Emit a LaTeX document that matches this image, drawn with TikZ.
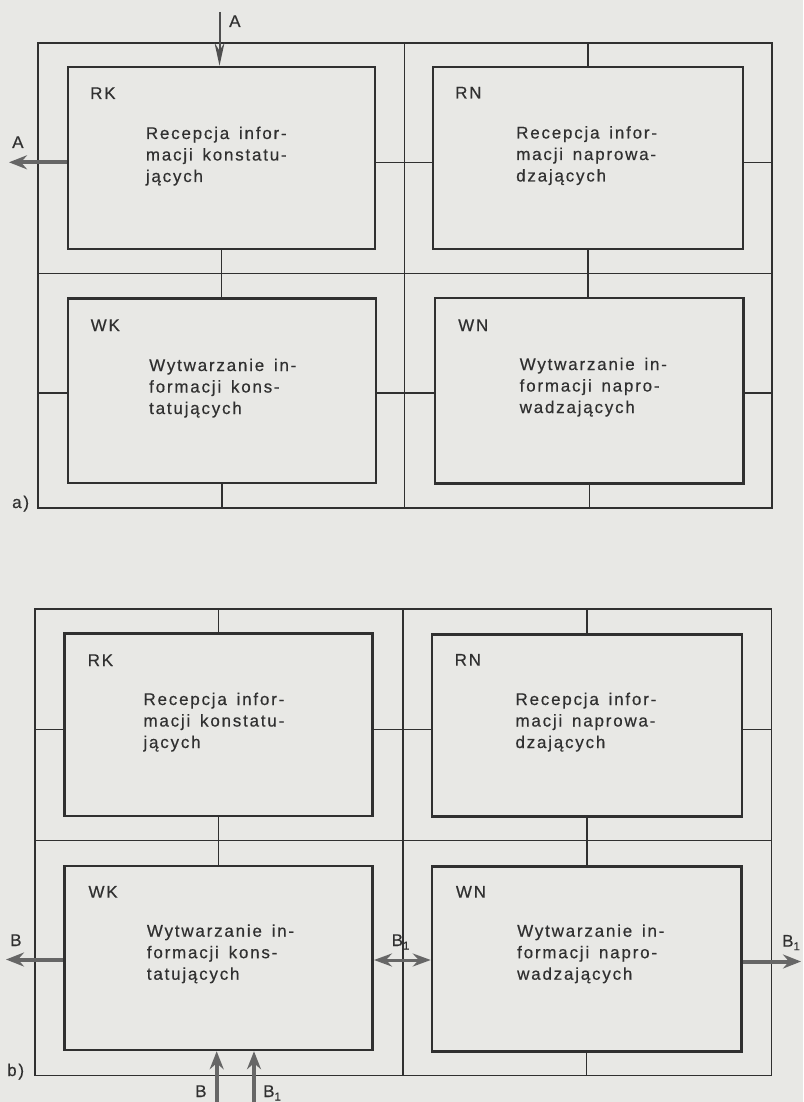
\documentclass[tikz,border=0pt]{standalone}
\usepackage{fontspec}
\setmainfont{Liberation Sans}[LetterSpace=10.5,WordSpace=1.5,FakeBold=0.45]
\usetikzlibrary{arrows.meta}
\definecolor{paper}{HTML}{E8E8E5}
\definecolor{ink}{HTML}{303030}
\definecolor{arrowgray}{HTML}{666666}
\newcommand\boxlines[3]{\vtop{\hbox{#1}\hbox{#2}\hbox{#3}}}
\newcommand\lowone{\raisebox{-3.5pt}{\fontsize{11.5}{11.5}\selectfont 1}}
\begin{document}
\begin{tikzpicture}[x=1pt,y=-1pt,
  frame/.style={draw=ink, line width=1.3pt, rectangle, inner sep=0pt},
  block/.style={draw=ink, line width=2.5pt, rectangle, inner sep=0pt},
  conn/.style={draw=ink, line width=1.3pt},
  txt/.style={anchor=base west, inner sep=0pt, text=ink, font=\fontsize{17}{21.5}\selectfont},
  fatarrow/.style={draw=arrowgray, line width=4pt, -{Stealth[length=18pt,width=14pt,inset=6pt]}},
  twoarrow/.style={draw=arrowgray, line width=3pt, {Stealth[length=18pt,width=13pt,inset=6pt]}-{Stealth[length=18pt,width=13pt,inset=6pt]}},
  thinarrow/.style={draw=ink!85, line width=2pt, -{Stealth[length=23pt,width=10pt,inset=8pt]}}
]
\useasboundingbox (0,0) rectangle (803,1102);
\fill[paper] (0,0) rectangle (803,1102);

% ---------------- a) ----------------
\node[frame, minimum width=734pt, minimum height=465pt] (fa) at (405,275.5) {};
\coordinate (amid) at (404.5,273.5);
\draw[conn] (fa.north -| amid) -- (fa.south -| amid);
\draw[conn] (fa.west |- amid) -- (fa.east |- amid);

\node[block, minimum width=307pt, minimum height=182pt] (rka) at (221.5,158) {};
\node[block, minimum width=310pt, minimum height=182pt] (rna) at (588,158) {};
\node[block, minimum width=308pt, minimum height=184.5pt] (wka) at (222,390.75) {};
\node[block, minimum width=308.5pt, minimum height=185.5pt] (wna) at (589.25,390.75) {};

\coordinate (ya1) at (0,162.3);
\coordinate (ya2) at (0,393);
\coordinate (atop) at (219.5,12);
\coordinate (aleft) at (9,162.3);

\draw[thinarrow] (atop) -- (rka.north -| atop);
\draw[fatarrow] (rka.west |- ya1) -- (aleft);
\draw[conn] (rna.north |- fa.north) -- (rna.north);
\draw[conn] (rka.east |- ya1) -- (rna.west |- ya1);
\draw[conn] (rna.east |- ya1) -- (fa.east |- ya1);
\draw[conn] (rka.south) -- (wka.north -| rka.south);
\draw[conn] (rna.south) -- (wna.north -| rna.south);
\draw[conn] (fa.west |- ya2) -- (wka.west |- ya2);
\draw[conn] (wka.east |- ya2) -- (wna.west |- ya2);
\draw[conn] (wna.east |- ya2) -- (fa.east |- ya2);
\draw[conn] (wka.south) -- (fa.south -| wka.south);
\draw[conn] (wna.south) -- (fa.south -| wna.south);

\node[txt] (rkaL) at (90,99) {RK};
\node[txt] (rkaT) at (145.7,139) {\boxlines{Recepcja infor-}{macji konstatu-}{jących}};
\node[txt] (rnaL) at (455,98.5) {RN};
\node[txt] (rnaT) at (516,138.5) {\boxlines{Recepcja infor-}{macji naprowa-}{dzających}};
\node[txt] (wkaL) at (90.5,331) {WK};
\node[txt] (wkaT) at (149,371) {\boxlines{Wytwarzanie in-}{formacji kons-}{tatujących}};
\node[txt] (wnaL) at (458,331) {WN};
\node[txt] (wnaT) at (519.5,370) {\boxlines{Wytwarzanie in-}{formacji napro-}{wadzających}};

\node[txt] (labA1) at (229,27) {A};
\node[txt] (labA2) at (12,148) {A};
\node[txt] (laba) at (12,508) {a)};

% ---------------- b) ----------------
\node[frame, minimum width=736.5pt, minimum height=466.5pt] (fb) at (403.25,842.25) {};
\coordinate (bmid) at (403,840.5);
\draw[conn] (fb.north -| bmid) -- (fb.south -| bmid);
\draw[conn] (fb.west |- bmid) -- (fb.east |- bmid);

\node[block, minimum width=308.4pt, minimum height=182.5pt] (rkb) at (218.5,724.75) {};
\node[block, minimum width=310pt, minimum height=182.2pt] (rnb) at (587,725.6) {};
\node[block, minimum width=308.4pt, minimum height=184pt] (wkb) at (218.5,958) {};
\node[block, minimum width=309.3pt, minimum height=185pt] (wnb) at (586.65,959.2) {};

\coordinate (yb1) at (0,729.5);
\coordinate (yb2) at (0,960);
\coordinate (bleft) at (6,959.5);
\coordinate (bright) at (801,961.5);
\coordinate (bup1) at (216.7,1102);
\coordinate (bup2) at (254,1102);

\draw[conn] (rkb.north |- fb.north) -- (rkb.north);
\draw[conn] (rnb.north |- fb.north) -- (rnb.north);
\draw[conn] (fb.west |- yb1) -- (rkb.west |- yb1);
\draw[conn] (rkb.east |- yb1) -- (rnb.west |- yb1);
\draw[conn] (rnb.east |- yb1) -- (fb.east |- yb1);
\draw[conn] (rkb.south) -- (wkb.north -| rkb.south);
\draw[conn] (rnb.south) -- (wnb.north -| rnb.south);
\draw[conn] (wnb.south) -- (fb.south -| wnb.south);

\draw[fatarrow] (wkb.west |- bleft) -- (bleft);
\draw[twoarrow] (wkb.east |- yb2) -- (wnb.west |- yb2);
\draw[fatarrow] (wnb.east |- bright) -- (bright);
\draw[fatarrow] (bup1) -- (wkb.south -| bup1);
\draw[fatarrow] (bup2) -- (wkb.south -| bup2);

\node[txt] (rkbL) at (87.5,666) {RK};
\node[txt] (rkbT) at (143.3,705) {\boxlines{Recepcja infor-}{macji konstatu-}{jących}};
\node[txt] (rnbL) at (454.5,665.7) {RN};
\node[txt] (rnbT) at (515.3,705) {\boxlines{Recepcja infor-}{macji naprowa-}{dzających}};
\node[txt] (wkbL) at (88.3,897.7) {WK};
\node[txt] (wkbT) at (146.7,936.7) {\boxlines{Wytwarzanie in-}{formacji kons-}{tatujących}};
\node[txt] (wnbL) at (455.7,897.7) {WN};
\node[txt] (wnbT) at (517,936.7) {\boxlines{Wytwarzanie in-}{formacji napro-}{wadzających}};

\node[txt] (labB1) at (10,946) {B};
\node[txt] (labB2) at (391.5,946) {B\lowone};
\node[txt] (labB3) at (782,946.7) {B\lowone};
\node[txt] (labB4) at (195,1097) {B};
\node[txt] (labB5) at (263,1097) {B\lowone};
\node[txt] (labb) at (7,1076) {b)};
\end{tikzpicture}
\end{document}
